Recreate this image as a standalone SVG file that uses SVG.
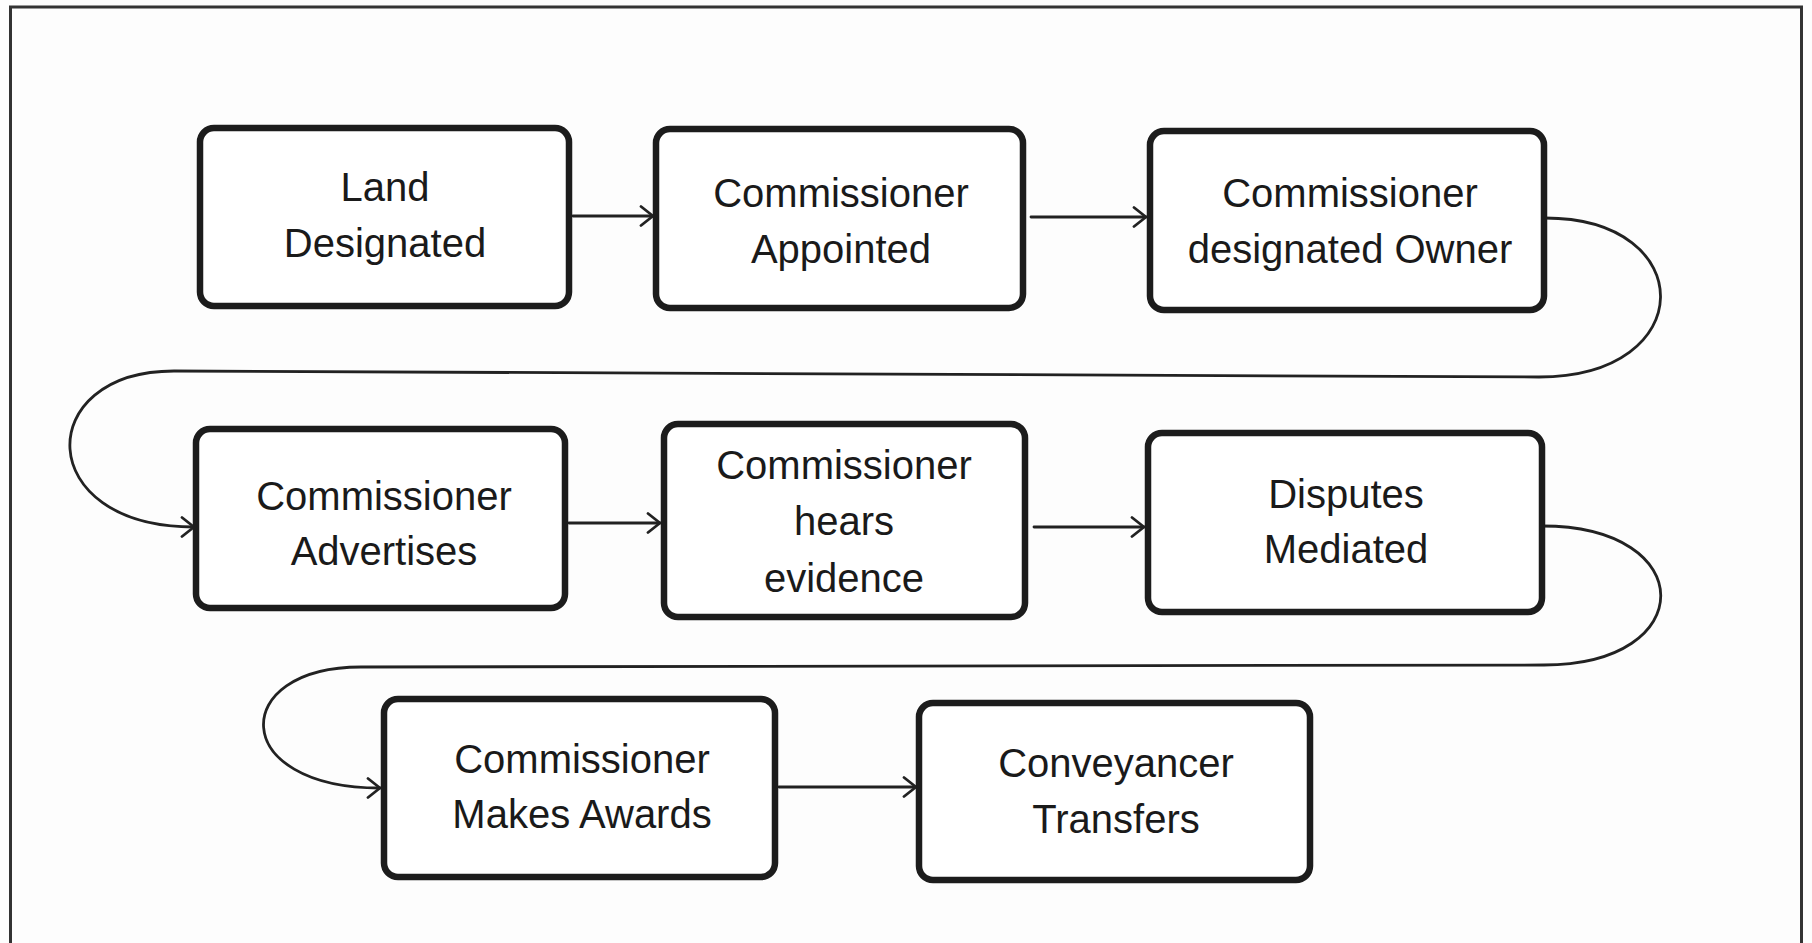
<svg xmlns="http://www.w3.org/2000/svg" width="1812" height="943" viewBox="0 0 1812 943">
<style>
.box{fill:#ffffff;stroke:#1c1c1c;stroke-width:6.5}
.lbl{font-family:"Liberation Sans",Arial,sans-serif;font-size:40px;fill:#1a1a1a;text-anchor:middle}
.con{fill:none;stroke:#222;stroke-width:2.8;stroke-linecap:round}
</style>
<defs>
<marker id="arr" viewBox="0 0 16 22" refX="14" refY="11" markerWidth="16" markerHeight="22" orient="auto" markerUnits="userSpaceOnUse">
<path d="M2,1.5 L14,11 L2,20.5" fill="none" stroke="#222" stroke-width="2.8" stroke-linecap="round" stroke-linejoin="round"/>
</marker>
</defs>
<rect x="0" y="0" width="1812" height="943" fill="#fdfdfd"/>
<rect x="10.5" y="7" width="1791" height="960" fill="none" stroke="#333" stroke-width="3"/>

<g id="connectors">
<path class="con" marker-end="url(#arr)" d="M573,216 L653,216"/>
<path class="con" marker-end="url(#arr)" d="M1031,217 L1146,217"/>
<path class="con" marker-end="url(#arr)" d="M1545,218 C1700,218 1700,377 1539,377 L174,371 C32,371 32,527 194,527"/>
<path class="con" marker-end="url(#arr)" d="M569,523 L660,523"/>
<path class="con" marker-end="url(#arr)" d="M1034,527 L1144,527"/>
<path class="con" marker-end="url(#arr)" d="M1542,526 C1700,526 1700,665 1544,665 L361,667 C228,667 228,788 380,788"/>
<path class="con" marker-end="url(#arr)" d="M779,787 L916,787"/>
</g>

<g id="n1">
<rect class="box" x="200" y="128" width="369" height="178" rx="14"/>
<text class="lbl" x="385" y="201">Land</text>
<text class="lbl" x="385" y="257">Designated</text>
</g>
<g id="n2">
<rect class="box" x="656" y="129" width="367" height="179" rx="14"/>
<text class="lbl" x="841" y="207">Commissioner</text>
<text class="lbl" x="841" y="263">Appointed</text>
</g>
<g id="n3">
<rect class="box" x="1150" y="131" width="394" height="179" rx="14"/>
<text class="lbl" x="1350" y="207">Commissioner</text>
<text class="lbl" x="1350" y="263">designated Owner</text>
</g>
<g id="n4">
<rect class="box" x="196" y="429" width="369" height="179" rx="14"/>
<text class="lbl" x="384" y="510">Commissioner</text>
<text class="lbl" x="384" y="565">Advertises</text>
</g>
<g id="n5">
<rect class="box" x="664" y="424" width="361" height="193" rx="14"/>
<text class="lbl" x="844" y="479">Commissioner</text>
<text class="lbl" x="844" y="535">hears</text>
<text class="lbl" x="844" y="592">evidence</text>
</g>
<g id="n6">
<rect class="box" x="1148" y="433" width="394" height="179" rx="14"/>
<text class="lbl" x="1346" y="508">Disputes</text>
<text class="lbl" x="1346" y="563">Mediated</text>
</g>
<g id="n7">
<rect class="box" x="384" y="699" width="391" height="178" rx="14"/>
<text class="lbl" x="582" y="773">Commissioner</text>
<text class="lbl" x="582" y="828">Makes Awards</text>
</g>
<g id="n8">
<rect class="box" x="919" y="703" width="391" height="177" rx="14"/>
<text class="lbl" x="1116" y="777">Conveyancer</text>
<text class="lbl" x="1116" y="833">Transfers</text>
</g>
</svg>
